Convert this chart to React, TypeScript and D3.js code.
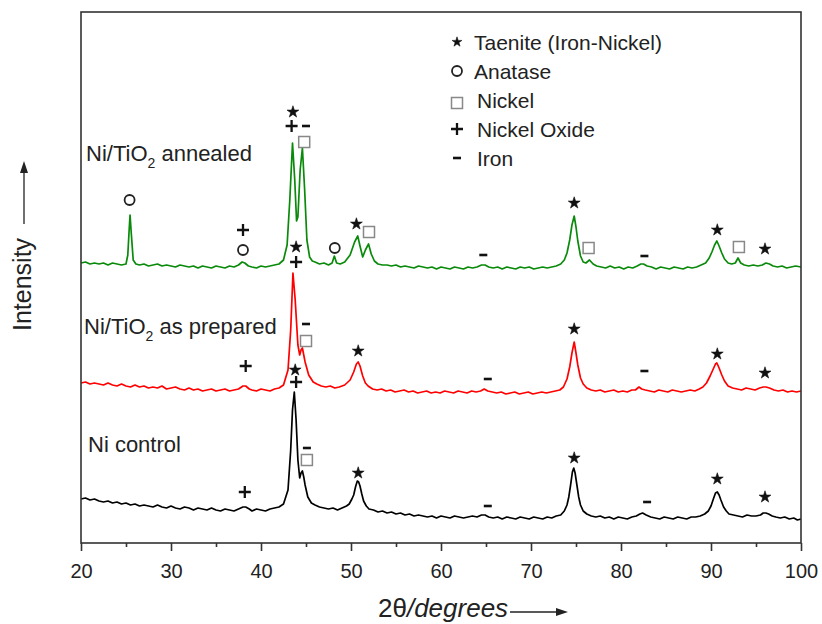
import React, { useEffect, useRef } from "react";
import * as d3 from "d3";

// 2θ axis
const xDomain = [20, 100];
const xTicks = [20, 30, 40, 50, 60, 70, 80, 90, 100];
const xMinorTicks = [25, 35, 45, 55, 65, 75, 85, 95];

// intensity (a.u.), [2θ, intensity]
const niControl = [
  [20,44],[20.5,45],[21,43],[21.5,44],[22,42],[22.5,41],[23,42],[23.5,40],[24,41],[24.5,39],[25,40],[25.5,38],[26,39],[26.5,37],[27,38],[27.5,37],[28,36],[28.5,38],[29,36],[29.5,35],[30,37],[30.5,35],[31,34],[31.5,36],[32,35],[32.5,33],[33,35],[33.5,34],[34,33],[34.5,35],[35,33],[35.5,32],[36,34],[36.5,33],[37,32],[37.5,34],[38,36],[38.3,36],[38.7,34],[39,32],[39.5,34],[40,33],[40.5,32],[41,34],[41.5,35],[42,36],[42.5,39],[43,53],[43.3,93],[43.5,133],[43.7,151],[43.9,123],[44.1,83],[44.3,65],[44.45,70],[44.6,72],[44.75,66],[44.9,58],[45.2,46],[45.6,40],[46,38],[46.5,36],[47,35],[47.5,34],[48,35],[48.5,33],[49,35],[49.5,37],[49.8,39],[50.1,44],[50.3,48],[50.5,56],[50.7,62],[50.85,61],[51.0,57],[51.2,49],[51.4,42],[51.7,37],[52,34],[52.5,33],[53,31],[53.5,32],[54,30],[54.5,31],[55,29],[55.5,30],[56,28],[56.5,29],[57,27],[57.5,28],[58,27],[58.5,26],[59,27],[59.5,25],[60,27],[60.5,26],[61,25],[61.5,27],[62,26],[62.5,25],[63,26],[63.5,27],[64,26],[64.5,28],[64.9,28],[65.3,26],[65.8,25],[66.3,26],[66.8,24],[67.3,26],[67.8,25],[68.3,24],[68.8,26],[69.3,25],[69.8,24],[70.3,26],[70.8,25],[71.3,24],[71.8,26],[72.3,25],[72.8,27],[73.3,28],[73.7,32],[74.0,38],[74.2,46],[74.4,58],[74.6,71],[74.75,75],[74.9,70],[75.1,58],[75.3,46],[75.5,38],[75.8,32],[76.2,29],[76.7,27],[77.2,26],[77.7,27],[78.2,25],[78.7,26],[79.2,24],[79.7,26],[80.2,25],[80.7,24],[81.2,26],[81.7,27],[82.1,29],[82.4,30],[82.8,28],[83.3,26],[83.8,25],[84.3,24],[84.8,26],[85.3,25],[85.8,24],[86.3,26],[86.8,25],[87.3,24],[87.8,26],[88.3,26],[88.8,27],[89.3,29],[89.7,32],[90.0,37],[90.3,45],[90.5,50],[90.7,51],[90.9,48],[91.1,43],[91.4,36],[91.7,32],[92,29],[92.5,28],[93,27],[93.5,26],[94,28],[94.5,27],[95,27],[95.5,28],[95.8,30],[96.1,30],[96.4,29],[96.8,27],[97.2,26],[97.7,25],[98.2,26],[98.7,24],[99.2,25],[99.6,23],[100,24],
];

const asPrepared = [
  [20,40],[20.5,41],[21,39],[21.5,40],[22,39],[22.5,38],[23,40],[23.5,38],[24,37],[24.5,39],[25,37],[25.5,36],[26,38],[26.5,36],[27,37],[27.5,35],[28,36],[28.5,35],[29,37],[29.5,34],[30,35],[30.5,36],[31,34],[31.5,33],[32,35],[32.5,33],[33,34],[33.5,32],[34,33],[34.5,34],[35,32],[35.5,33],[36,34],[36.5,32],[37,33],[37.5,34],[38,37],[38.3,37],[38.7,34],[39,33],[39.5,32],[40,34],[40.5,33],[41,32],[41.5,34],[42,35],[42.5,38],[43,53],[43.3,93],[43.55,150],[43.8,123],[44.1,78],[44.3,68],[44.45,73],[44.6,75],[44.75,68],[44.9,61],[45.3,48],[45.8,41],[46.2,39],[46.7,37],[47.2,36],[47.7,37],[48.2,35],[48.7,36],[49.3,38],[49.9,43],[50.3,51],[50.6,59],[50.8,61],[51.0,57],[51.3,47],[51.6,40],[51.9,37],[52.4,34],[52.9,33],[53.4,34],[53.9,32],[54.4,33],[54.9,31],[55.4,32],[55.9,33],[56.4,31],[56.9,32],[57.4,30],[57.9,31],[58.4,32],[58.9,30],[59.4,31],[59.9,30],[60.4,32],[60.9,31],[61.4,30],[61.9,32],[62.4,31],[62.9,30],[63.4,32],[63.9,31],[64.4,32],[64.8,34],[65.2,32],[65.7,31],[66.2,30],[66.7,31],[67.2,29],[67.7,30],[68.2,31],[68.7,29],[69.2,30],[69.7,31],[70.2,29],[70.7,30],[71.2,31],[71.7,30],[72.2,31],[72.7,32],[73.2,33],[73.6,36],[74.0,44],[74.3,56],[74.55,70],[74.8,81],[75.0,70],[75.2,58],[75.5,45],[75.8,39],[76.2,35],[76.7,33],[77.2,32],[77.7,33],[78.2,31],[78.7,32],[79.2,33],[79.7,31],[80.2,32],[80.7,31],[81.2,33],[81.6,33],[82.0,36],[82.3,34],[82.7,33],[83.2,32],[83.7,31],[84.2,33],[84.7,32],[85.2,31],[85.7,33],[86.2,32],[86.7,31],[87.2,32],[87.7,33],[88.2,32],[88.7,34],[89.1,36],[89.5,40],[89.9,47],[90.2,53],[90.5,59],[90.65,60],[90.9,55],[91.2,48],[91.5,42],[91.9,37],[92.4,35],[92.9,34],[93.4,33],[93.9,35],[94.4,34],[94.9,33],[95.4,35],[95.8,36],[96.1,36],[96.5,35],[97,33],[97.5,32],[98,33],[98.5,31],[99,32],[99.5,31],[100,32],
];

const annealed = [
  [20,30],[20.5,31],[21,29],[21.5,30],[22,29],[22.5,30],[23,28],[23.5,30],[24,29],[24.5,28],[25,29],[25.2,38],[25.35,63],[25.45,78],[25.6,58],[25.8,33],[26.1,29],[26.5,28],[27,29],[27.5,27],[28,28],[28.5,29],[29,27],[29.5,28],[30,27],[30.5,26],[31,28],[31.5,27],[32,26],[32.5,27],[33,25],[33.5,27],[34,26],[34.5,25],[35,27],[35.5,26],[36,25],[36.5,27],[37,26],[37.5,28],[37.9,31],[38.2,30],[38.6,27],[39,26],[39.5,25],[40,27],[40.5,26],[41,27],[41.5,28],[42,29],[42.5,33],[42.9,48],[43.2,93],[43.5,150],[43.75,113],[43.95,72],[44.1,76],[44.35,123],[44.6,145],[44.85,103],[45.1,53],[45.4,36],[45.7,32],[46,31],[46.5,29],[47,30],[47.5,28],[47.9,30],[48.15,37],[48.4,30],[48.8,29],[49.3,31],[49.9,38],[50.4,51],[50.75,57],[51.0,47],[51.3,36],[51.6,43],[51.95,49],[52.25,39],[52.6,32],[53,29],[53.5,28],[54,28],[54.5,27],[55,28],[55.5,26],[56,27],[56.5,26],[57,25],[57.5,27],[58,26],[58.5,25],[59,26],[59.5,24],[60,26],[60.5,25],[61,24],[61.5,26],[62,25],[62.5,24],[63,26],[63.5,25],[64,26],[64.5,28],[64.9,28],[65.3,26],[65.8,25],[66.3,26],[66.8,24],[67.3,26],[67.8,25],[68.3,24],[68.8,26],[69.3,25],[69.8,26],[70.3,24],[70.8,25],[71.3,26],[71.8,25],[72.3,26],[72.8,27],[73.3,29],[73.7,33],[74.0,40],[74.3,53],[74.55,68],[74.8,77],[75.0,66],[75.2,52],[75.5,37],[75.8,31],[76.1,30],[76.5,33],[76.9,29],[77.3,27],[77.8,26],[78.3,25],[78.8,27],[79.3,25],[79.8,26],[80.3,24],[80.8,26],[81.3,25],[81.8,27],[82.2,29],[82.5,29],[82.9,27],[83.4,26],[83.9,24],[84.4,26],[84.9,25],[85.4,24],[85.9,26],[86.4,25],[86.9,24],[87.4,26],[87.9,25],[88.4,26],[88.9,28],[89.4,30],[89.8,35],[90.1,41],[90.4,48],[90.65,52],[90.9,47],[91.2,40],[91.5,34],[91.9,30],[92.3,29],[92.7,30],[93.0,35],[93.3,30],[93.7,28],[94.2,27],[94.7,28],[95.2,27],[95.7,28],[96.1,30],[96.5,29],[96.9,27],[97.4,26],[97.9,27],[98.4,25],[98.9,26],[99.4,27],[100,26],
];

// phase labels above peaks: [2θ, height (a.u.), phase]
const controlMarks = [
  [38.2, 51, "plus"],
  [43.8, 173, "star"], [43.9, 161, "plus"],
  [45.1, 95, "dash"], [45.1, 83, "square"],
  [50.8, 70, "star"],
  [65.2, 37, "dash"],
  [74.8, 85, "star"],
  [82.9, 41, "dash"],
  [90.7, 64, "star"], [96.0, 46, "star"],
];

const preparedMarks = [
  [38.3, 57, "plus"],
  [43.9, 176, "star"], [43.9, 161, "plus"],
  [45.0, 99, "dash"], [45.0, 82, "square"],
  [50.8, 72, "star"],
  [65.2, 44, "dash"],
  [74.8, 94, "star"],
  [82.6, 52, "dash"],
  [90.7, 69, "star"], [96.0, 50, "star"],
];

const annealedMarks = [
  [25.4, 93, "circle"],
  [38.0, 63, "plus"], [38.0, 43, "circle"],
  [43.55, 181, "star"], [43.4, 167, "plus"], [45.0, 167, "dash"], [44.8, 151, "square"],
  [48.2, 45, "circle"],
  [50.6, 69, "star"], [52.0, 61, "square"],
  [64.7, 38, "dash"],
  [74.8, 90, "star"], [76.4, 45, "square"],
  [82.6, 37, "dash"],
  [90.7, 63, "star"], [93.1, 46, "square"], [96.0, 44, "star"],
];

const legendKinds = ["star", "circle", "square", "plus", "dash"];
const legendNames = ["Taenite (Iron-Nickel)", "Anatase", "Nickel", "Nickel Oxide", "Iron"];

const FONT = "'Liberation Sans', Arial, Helvetica, sans-serif";

const drawMarker = (g, kind, cx, cy, small = false) => {
  if (kind === "star") {
    g.append("path")
      .attr("d", d3.symbol(d3.symbolStar, small ? 30 : 44)())
      .attr("transform", `translate(${cx},${cy})`)
      .attr("fill", "#111")
      .attr("stroke", "#111")
      .attr("stroke-width", 0.6)
      .attr("stroke-linejoin", "round");
  } else if (kind === "circle") {
    g.append("circle")
      .attr("cx", cx).attr("cy", cy).attr("r", 5)
      .attr("fill", "none").attr("stroke", "#222").attr("stroke-width", 1.8);
  } else if (kind === "square") {
    g.append("rect")
      .attr("x", cx - 5.5).attr("y", cy - 5.5).attr("width", 11).attr("height", 11)
      .attr("fill", "none").attr("stroke", "#888").attr("stroke-width", 1.5);
  } else if (kind === "plus") {
    g.append("path")
      .attr("d", `M${cx - 6},${cy}H${cx + 6}M${cx},${cy - 6}V${cy + 6}`)
      .attr("stroke", "#111").attr("stroke-width", 2.3);
  } else if (kind === "dash") {
    g.append("line")
      .attr("x1", cx - 4).attr("x2", cx + 4).attr("y1", cy).attr("y2", cy)
      .attr("stroke", "#111").attr("stroke-width", 2.6);
  }
};

const XrdChart = () => {
  const chartRef = useRef(null);

  useEffect(() => {
    const width = 822;
    const height = 624;
    const margin = { top: 12, right: 21, bottom: 81, left: 81 };

    const x = d3.scaleLinear().domain(xDomain).range([margin.left, width - margin.right]);
    const y = d3.scaleLinear().domain([0, 531]).range([height - margin.bottom, margin.top]);

    const svg = d3
      .select(chartRef.current)
      .append("svg")
      .attr("width", width)
      .attr("height", height)
      .style("display", "block")
      .style("background", "#fff")
      .style("font-family", FONT);

    const series = [
      { data: niControl, marks: controlMarks, offset: 0, color: "#000000" },
      { data: asPrepared, marks: preparedMarks, offset: 120, color: "#ff0000" },
      { data: annealed, marks: annealedMarks, offset: 250, color: "#0a8a0a" },
    ];

    series.forEach((s) => {
      const line = d3
        .line()
        .x((d) => x(d[0]))
        .y((d) => y(d[1] + s.offset));

      svg
        .append("path")
        .datum(s.data)
        .attr("fill", "none")
        .attr("stroke", s.color)
        .attr("stroke-width", 1.7)
        .attr("stroke-linejoin", "round")
        .attr("d", line);

      const mg = svg.append("g");
      s.marks.forEach((m) => drawMarker(mg, m[2], x(m[0]), y(m[1] + s.offset)));
    });

    // frame
    svg
      .append("rect")
      .attr("x", margin.left)
      .attr("y", margin.top)
      .attr("width", width - margin.left - margin.right)
      .attr("height", height - margin.top - margin.bottom)
      .attr("fill", "none")
      .attr("stroke", "#333")
      .attr("stroke-width", 1.6);

    // bottom axis: major + minor ticks
    const axisY = height - margin.bottom;
    const major = svg
      .append("g")
      .attr("transform", `translate(0, ${axisY})`)
      .call(d3.axisBottom(x).tickValues(xTicks).tickSize(8).tickPadding(13).tickFormat(d3.format("d")));
    major.selectAll(".tick line").attr("stroke", "#333").attr("stroke-width", 1.6);
    major
      .selectAll("text")
      .style("fill", "#222")
      .style("font-size", "20px")
      .style("font-family", FONT);

    const minor = svg
      .append("g")
      .attr("transform", `translate(0, ${axisY})`)
      .call(d3.axisBottom(x).tickValues(xMinorTicks).tickSize(4).tickFormat(() => ""));
    minor.selectAll(".tick line").attr("stroke", "#333").attr("stroke-width", 1.6);

    svg.selectAll(".domain").remove();

    // series labels
    const labels = [
      { x: 86, y: 161, pre: "Ni/TiO", sub: "2", post: " annealed" },
      { x: 84, y: 334, pre: "Ni/TiO", sub: "2", post: " as prepared" },
      { x: 88, y: 452, pre: "Ni control", sub: "", post: "" },
    ];
    labels.forEach((l) => {
      const t = svg
        .append("text")
        .attr("x", l.x)
        .attr("y", l.y)
        .style("font-size", "22px")
        .style("fill", "#222")
        .text(l.pre);
      if (l.sub) {
        t.append("tspan").attr("dy", 7).style("font-size", "14px").text(l.sub);
        t.append("tspan").attr("dy", -7).text(l.post);
      }
    });

    // legend
    const lg = svg.append("g");
    legendNames.forEach((name, i) => {
      const cy = 42 + i * 29;
      drawMarker(lg, legendKinds[i], 457, cy + (i === 2 ? 3 : 0), true);
      lg.append("text")
        .attr("x", i < 2 ? 474 : 477)
        .attr("y", cy + 8)
        .style("font-size", "21px")
        .style("fill", "#222")
        .text(name);
    });

    // y axis title with arrow
    svg
      .append("text")
      .attr("transform", "translate(31, 331) rotate(-90)")
      .style("font-size", "25px")
      .style("fill", "#222")
      .text("Intensity");
    svg
      .append("line")
      .attr("x1", 24).attr("x2", 24).attr("y1", 224).attr("y2", 170)
      .attr("stroke", "#222").attr("stroke-width", 1.3);
    svg
      .append("path")
      .attr("d", "M24,161L20,173L28,173Z")
      .attr("fill", "#222");

    // x axis title with arrow
    const xt = svg
      .append("text")
      .attr("x", 378)
      .attr("y", 617)
      .style("font-size", "26px")
      .style("fill", "#222");
    xt.append("tspan").text("2θ");
    xt.append("tspan").style("font-style", "italic").text("/degrees");
    svg
      .append("line")
      .attr("x1", 510).attr("x2", 560).attr("y1", 612).attr("y2", 612)
      .attr("stroke", "#222").attr("stroke-width", 1.3);
    svg
      .append("path")
      .attr("d", "M568,612L556,608L556,616Z")
      .attr("fill", "#222");

    return () => {
      svg.remove();
    };
  }, []);

  return <div ref={chartRef} style={{ position: "absolute", left: 0, top: 0 }}></div>;
};

export default function App() {
  return <XrdChart />;
}
